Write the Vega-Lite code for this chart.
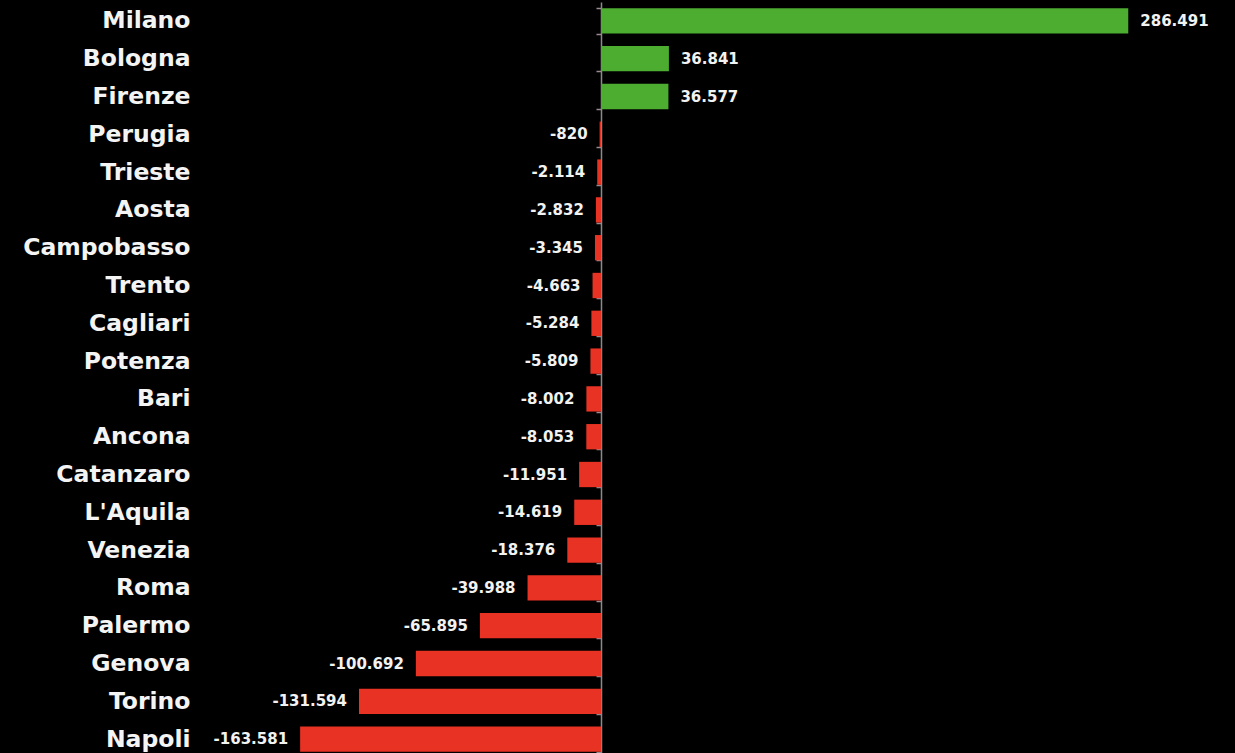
{
  "$schema": "https://vega.github.io/schema/vega-lite/v6.json",
  "autosize": {"type": "none"},
  "padding": {"left": 200, "top": 2, "right": 0, "bottom": 0},
  "width": 1035,
  "height": 756,
  "background": "#000000",
  "config": {
    "view": {"stroke": null},
    "locale": {"number": {"decimal": ",", "thousands": ".", "grouping": [3], "currency": ["€", ""], "minus": "-"}}
  },
  "data": {
    "values": [
      {"city": "Milano", "v": 286491},
      {"city": "Bologna", "v": 36841},
      {"city": "Firenze", "v": 36577},
      {"city": "Perugia", "v": -820},
      {"city": "Trieste", "v": -2114},
      {"city": "Aosta", "v": -2832},
      {"city": "Campobasso", "v": -3345},
      {"city": "Trento", "v": -4663},
      {"city": "Cagliari", "v": -5284},
      {"city": "Potenza", "v": -5809},
      {"city": "Bari", "v": -8002},
      {"city": "Ancona", "v": -8053},
      {"city": "Catanzaro", "v": -11951},
      {"city": "L'Aquila", "v": -14619},
      {"city": "Venezia", "v": -18376},
      {"city": "Roma", "v": -39988},
      {"city": "Palermo", "v": -65895},
      {"city": "Genova", "v": -100692},
      {"city": "Torino", "v": -131594},
      {"city": "Napoli", "v": -163581}
    ]
  },
  "encoding": {
    "y": {
      "field": "city",
      "type": "nominal",
      "sort": ["Milano", "Bologna", "Firenze", "Perugia", "Trieste", "Aosta", "Campobasso", "Trento", "Cagliari", "Potenza", "Bari", "Ancona", "Catanzaro", "L'Aquila", "Venezia", "Roma", "Palermo", "Genova", "Torino", "Napoli"],
      "scale": {"paddingInner": 0.33, "paddingOuter": 0.165},
      "axis": {
        "title": null,
        "offset": -401,
        "tickBand": "extent",
        "ticks": true,
        "tickSize": 5,
        "tickColor": "#9a8a90",
        "tickWidth": 1.5,
        "domainColor": "#8a8a8a",
        "domainWidth": 1.5,
        "labelPadding": 406,
        "labelColor": "#f4f4f4",
        "labelFont": "DejaVu Sans",
        "labelFontWeight": "bold",
        "labelFontSize": 23.5,
        "labelAlign": "right"
      }
    },
    "x": {
      "field": "v",
      "type": "quantitative",
      "scale": {"domain": [-218000, 344500], "nice": false, "zero": false},
      "axis": null
    }
  },
  "layer": [
    {
      "mark": {"type": "bar"},
      "encoding": {
        "color": {"condition": {"test": "datum.v > 0", "value": "#4cad30"}, "value": "#e83223"}
      }
    },
    {
      "transform": [{"filter": "datum.v > 0"}],
      "mark": {"type": "text", "align": "left", "baseline": "middle", "dx": 12, "font": "DejaVu Sans", "fontWeight": "bold", "fontSize": 15, "color": "#f2f2f2"},
      "encoding": {"text": {"field": "v", "type": "quantitative", "format": ",d"}}
    },
    {
      "transform": [{"filter": "datum.v < 0"}],
      "mark": {"type": "text", "align": "right", "baseline": "middle", "dx": -12, "font": "DejaVu Sans", "fontWeight": "bold", "fontSize": 15, "color": "#f2f2f2"},
      "encoding": {"text": {"field": "v", "type": "quantitative", "format": ",d"}}
    }
  ]
}
